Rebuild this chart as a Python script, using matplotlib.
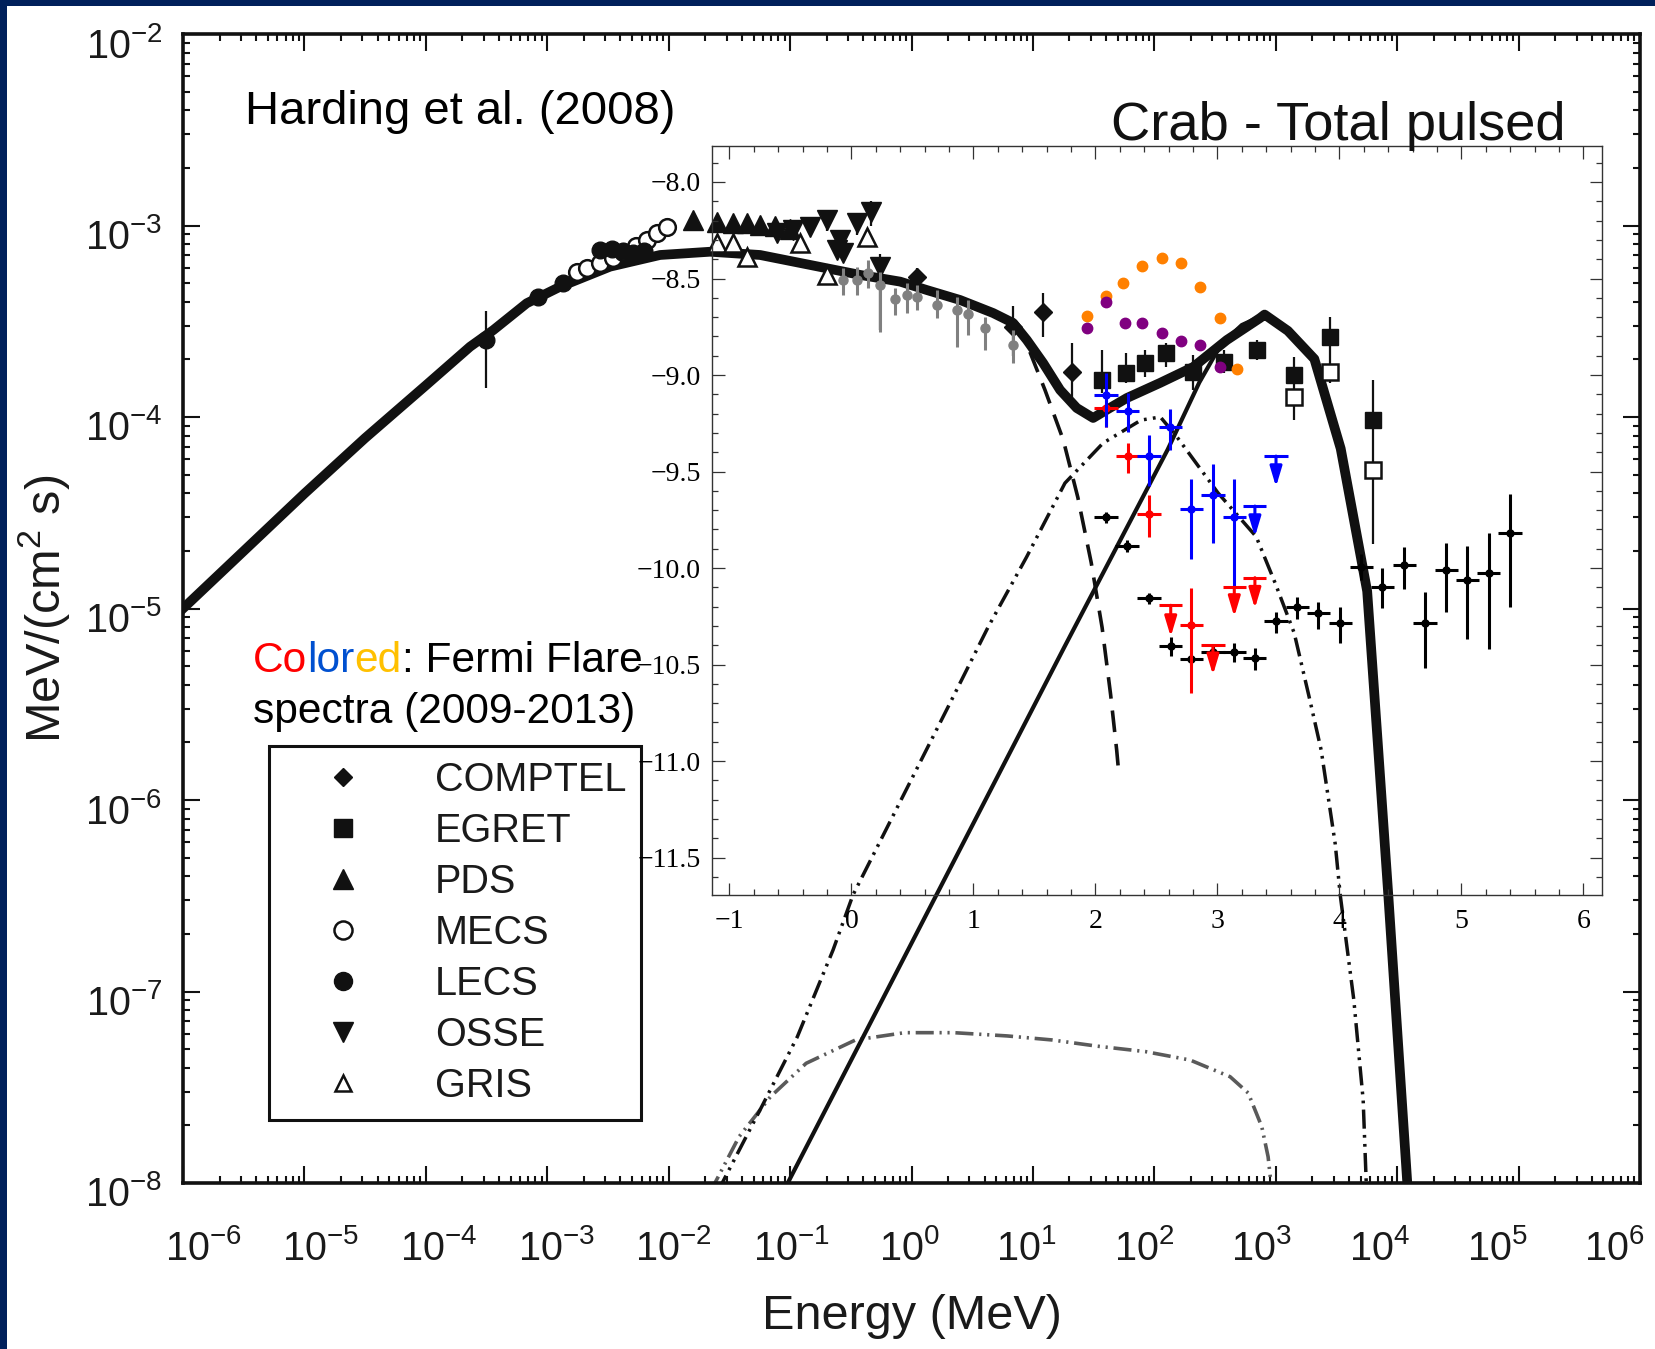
import numpy as np
import matplotlib
matplotlib.use('Agg')
import matplotlib.pyplot as plt
from matplotlib.lines import Line2D
from matplotlib.patches import Rectangle
from matplotlib.transforms import ScaledTranslation
from matplotlib.ticker import FixedLocator, LogLocator, NullFormatter, MultipleLocator, FuncFormatter

plt.rcParams['font.family'] = ['Liberation Sans', 'DejaVu Sans']
plt.rcParams['mathtext.fontset'] = 'custom'
plt.rcParams['mathtext.rm'] = 'Liberation Sans'
plt.rcParams['mathtext.it'] = 'Liberation Sans:italic'
plt.rcParams['mathtext.bf'] = 'Liberation Sans:bold'

# ---------------- outer plot data (log10 E [MeV], log10 E^2F [MeV/cm2/s]) -------------
tot_logE = [-6.0, -5.5, -5.0, -4.5, -4.0, -3.636, -3.444, -3.169, -2.895, -2.483, -2.071,
            -1.659, -1.247, -0.835, -0.423, -0.094, 0.126, 0.400, 0.672, 0.837, 0.950, 1.084,
            1.224, 1.361, 1.496, 1.606, 1.773, 2.047, 2.320, 2.597, 2.871, 2.908, 3.10, 3.318,
            3.535, 3.753, 3.84, 3.927, 4.083, 4.12]
tot_logF = [-5.0, -4.70, -4.40, -4.11, -3.835, -3.633, -3.546, -3.406, -3.320, -3.215, -3.154,
            -3.137, -3.154, -3.206, -3.258, -3.293, -3.337, -3.389, -3.457, -3.509, -3.598, -3.718,
            -3.859, -3.953, -4.005, -3.963, -3.901, -3.822, -3.739, -3.598, -3.483, -3.465, -3.55,
            -3.697, -4.165, -4.910, -5.70, -6.497, -7.997, -8.35]

thin_logE = [-1.06, 1.26, 2.11, 2.37, 2.55, 2.72, 2.908, 3.10, 3.318, 3.535, 3.753, 3.84,
             3.927, 4.083, 4.12]
thin_logF = [-8.05, -5.2, -4.17, -3.82, -3.62, -3.52, -3.465, -3.55, -3.697, -4.165, -4.910,
             -5.70, -6.497, -7.997, -8.35]

dash_logE = [0.837, 0.95, 1.10, 1.25, 1.37, 1.48, 1.57, 1.64, 1.69, 1.71]
dash_logF = [-3.509, -3.62, -3.86, -4.12, -4.42, -4.76, -5.10, -5.45, -5.74, -5.88]

dd_logE = [-1.60, -1.234, -0.940, -0.646, -0.482, 0.318, 0.631, 0.948, 1.264, 1.578, 1.891,
           2.05, 2.185, 2.525, 2.839, 2.995, 3.152, 3.281, 3.374, 3.490, 3.531, 3.643, 3.720,
           3.745, 3.75]
dd_logF = [-8.05, -7.602, -7.236, -6.783, -6.496, -5.493, -5.097, -4.731, -4.345, -4.136, -4.016,
           -4.00, -4.103, -4.397, -4.625, -4.867, -5.128, -5.478, -5.739, -6.230, -6.496, -7.044,
           -7.567, -7.995, -8.05]

ssc_logE = [-1.66, -1.42, -1.161, -0.868, -0.461, -0.057, 0.348, 0.788, 1.157, 1.524, 1.928,
            2.295, 2.624, 2.773, 2.885, 2.937, 2.958, 2.962]
ssc_logF = [-8.05, -7.758, -7.549, -7.375, -7.253, -7.215, -7.215, -7.232, -7.253, -7.285, -7.314,
            -7.358, -7.445, -7.53, -7.706, -7.863, -7.984, -8.05]

comptel_logE = [0.044, 0.839, 1.087, 1.320]
comptel_logF = [-3.267, -3.53, -3.450, -3.763]
comptel_lo = [-3.31, -3.68, -3.582, -3.896]
comptel_hi = [-3.22, -3.42, -3.352, -3.614]

egret_logE = [1.570, 1.768, 1.921, 2.097, 2.320, 2.573, 2.847, 3.150, 3.448, 3.802]
egret_logF = [-3.807, -3.770, -3.718, -3.666, -3.763, -3.711, -3.650, -3.781, -3.581, -4.016]
egret_lo = [-3.875, -3.822, -3.791, -3.739, -3.859, -3.77, -3.70, -4.016, -3.822, -4.661]
egret_hi = [-3.650, -3.666, -3.650, -3.614, -3.676, -3.65, -3.60, -3.687, -3.478, -3.807]
egret_open_logE = [3.150, 3.448, 3.802]
egret_open_logF = [-3.894, -3.763, -4.277]

pds_logE = [-1.796, -1.601, -1.467, -1.357, -1.247, -1.124, -1.0]
pds_logF = [-2.969, -2.980, -2.988, -2.988, -2.997, -3.003, -3.02]

gris_logE = [-1.604, -1.467, -1.357, -0.918, -0.70, -0.368]
gris_logF = [-3.093, -3.093, -3.163, -3.093, -3.258, -3.058]

osse_logE = [-1.110, -0.973, -0.835, -0.698, -0.615, -0.588, -0.561, -0.451, -0.337, -0.261]
osse_logF = [-3.041, -3.024, -3.006, -2.971, -3.128, -3.076, -3.145, -2.988, -2.928, -3.215]
osse_lo = [-3.06, -3.04, -3.03, -3.03, -3.16, -3.10, -3.18, -3.05, -3.00, -3.546]
osse_hi = [-3.02, -3.00, -2.98, -2.94, -3.09, -3.05, -3.11, -2.95, -2.87, -3.15]

lecs_logE = [-3.508, -3.076, -2.873, -2.569, -2.466, -2.376, -2.293, -2.203]
lecs_logF = [-3.598, -3.371, -3.300, -3.128, -3.123, -3.133, -3.144, -3.133]
lecs_lo = [-3.849, -3.39, -3.32, -3.15, -3.14, -3.15, -3.16, -3.15]
lecs_hi = [-3.446, -3.35, -3.28, -3.11, -3.10, -3.11, -3.13, -3.11]

mecs_logE = [-2.757, -2.675, -2.565, -2.458, -2.376, -2.269, -2.180, -2.098, -2.016]
mecs_logF = [-3.241, -3.223, -3.197, -3.170, -3.138, -3.107, -3.076, -3.041, -3.006]

legend_labels = ['COMPTEL', 'EGRET', 'PDS', 'MECS', 'LECS', 'OSSE', 'GRIS']

# ---------------- inset data (Fermi) ----------------
gray_x = [-0.067, 0.048, 0.138, 0.234, 0.357, 0.452, 0.534, 0.698, 0.862, 0.957, 1.094, 1.326]
gray_y = [-8.508, -8.508, -8.470, -8.534, -8.608, -8.585, -8.594, -8.637, -8.663, -8.684, -8.758, -8.845]
gray_lo = [-8.585, -8.585, -8.549, -8.777, -8.689, -8.679, -8.663, -8.705, -8.855, -8.793, -8.870, -8.938]
gray_hi = [-8.446, -8.440, -8.404, -8.466, -8.549, -8.523, -8.534, -8.560, -8.596, -8.611, -8.699, -8.767]

orange_x = [1.928, 2.084, 2.228, 2.384, 2.543, 2.701, 2.857, 3.020, 3.157]
orange_y = [-8.694, -8.591, -8.522, -8.434, -8.395, -8.421, -8.546, -8.706, -8.970]
purple_x = [1.928, 2.084, 2.242, 2.384, 2.543, 2.701, 2.857, 3.020]
purple_y = [-8.755, -8.620, -8.732, -8.732, -8.784, -8.822, -8.845, -8.957]

blue_x = [2.086, 2.266, 2.614, 2.439, 2.787, 2.963, 3.138]
blue_y = [-9.104, -9.185, -9.271, -9.420, -9.696, -9.622, -9.734]
blue_lo = [-9.269, -9.295, -9.389, -9.575, -9.953, -9.869, -10.097]
blue_hi = [-8.990, -9.093, -9.176, -9.311, -9.539, -9.461, -9.539]
blue_ul_x = [3.480, 3.307]
blue_ul_y = [-9.420, -9.679]
blue_ul_tip = [-9.579, -9.838]

red_x = [2.086, 2.266, 2.439, 2.787]
red_y = [-9.173, -9.420, -9.722, -10.295]
red_lo = [-9.269, -9.508, -9.838, -10.648]
red_hi = [-9.130, -9.352, -9.622, -10.104]
red_ul_x = [2.617, 2.963, 3.138, 3.307]
red_ul_y = [-10.193, -10.401, -10.100, -10.050]
red_ul_tip = [-10.356, -10.554, -10.252, -10.209]

blk_x = [2.086, 2.258, 2.439, 2.617, 2.787, 2.963, 3.138, 3.307, 3.480, 3.656, 3.828, 4.007,
         4.180, 4.352, 4.531, 4.701, 4.876, 5.048, 5.224, 5.398]
blk_y = [-9.734, -9.886, -10.157, -10.404, -10.473, -10.434, -10.434, -10.468, -10.273, -10.200,
         -10.235, -10.283, -9.996, -10.097, -9.984, -10.283, -10.010, -10.062, -10.024, -9.820]
blk_lo = [-9.768, -9.916, -10.187, -10.456, -10.503, -10.464, -10.485, -10.528, -10.335, -10.266,
          -10.318, -10.387, -10.062, -10.209, -10.110, -10.520, -10.226, -10.370, -10.421, -10.200]
blk_hi = [-9.708, -9.856, -10.127, -10.358, -10.443, -10.404, -10.387, -10.415, -10.226, -10.149,
          -10.175, -10.204, -9.927, -10.002, -9.893, -10.126, -9.869, -9.884, -9.820, -9.617]
bin_half = 0.095

# ---------------- figure ----------------
W, H = 1655, 1349
fig = plt.figure(figsize=(W / 100, H / 100), dpi=100, facecolor='#00205b')
fig.add_artist(Rectangle((7 / W, 0), 1 - 7 / W, 1 - 6 / H, transform=fig.transFigure,
                         facecolor='white', edgecolor='none', zorder=-10))

ink = '#111111'
ax = fig.add_axes([183 / W, 1 - 1183 / H, (1640 - 183) / W, (1183 - 34) / H])
ax.set_facecolor('white')
ax.set_xscale('log')
ax.set_yscale('log')
ax.set_xlim(1e-6, 1e6)
ax.set_ylim(1e-8, 1e-2)
ax.xaxis.set_major_locator(FixedLocator(10.0 ** np.arange(-6, 7)))
ax.yaxis.set_major_locator(FixedLocator(10.0 ** np.arange(-8, -1)))
ax.xaxis.set_minor_locator(LogLocator(base=10, subs=np.arange(2, 10), numticks=200))
ax.yaxis.set_minor_locator(LogLocator(base=10, subs=np.arange(2, 10), numticks=200))
ax.xaxis.set_minor_formatter(NullFormatter())
ax.yaxis.set_minor_formatter(NullFormatter())
ax.tick_params(which='both', direction='in', top=True, right=True, colors=ink, width=1.5)
ax.tick_params(which='major', length=12, labelsize=28.5, labelcolor='#1a1a1a')
ax.tick_params(which='minor', length=5)
ax.tick_params(axis='x', which='major', pad=33)
ax.tick_params(axis='y', which='major', pad=15)
for s in ax.spines.values():
    s.set_linewidth(2.6)
    s.set_color(ink)
off = ScaledTranslation(0, -8 / 100, fig.dpi_scale_trans)
for t in ax.yaxis.get_major_ticks():
    t.label1.set_transform(t.label1.get_transform() + off)
# x tick labels of the original sit on a slightly compressed scale
xlocs = ax.xaxis.get_majorticklocs()
for loc, t in zip(xlocs, ax.xaxis.get_major_ticks(len(xlocs))):
    n = np.log10(loc)
    dx = (-2.5 - 3.8 * n) / 100
    t.label1.set_transform(t.label1.get_transform() + ScaledTranslation(dx, 0, fig.dpi_scale_trans))

ax.set_xlabel('Energy (MeV)', fontsize=35, color='#1a1a1a')
ax.xaxis.set_label_coords(0.5, -0.097)
ax.set_ylabel('MeV/(cm$^2$ s)', fontsize=35, color='#1a1a1a')
ax.yaxis.set_label_coords(-0.0765, 0.5)

p10 = lambda a: 10.0 ** np.asarray(a)

# model curves
ax.plot(p10(ssc_logE), p10(ssc_logF), color='#5a5a5a', lw=2.6,
        dashes=(5, 1.6, 0.6, 1.6, 0.6, 1.6), zorder=2)
ax.plot(p10(dd_logE), p10(dd_logF), color=ink, lw=2.5,
        dashes=(5.5, 1.8, 0.8, 1.8, 0.8, 1.8), zorder=2)
ax.plot(p10(dash_logE), p10(dash_logF), color=ink, lw=2.6, dashes=(6, 3.3), zorder=2)
ax.plot(p10(thin_logE), p10(thin_logF), color=ink, lw=3.0, zorder=2)
ax.plot(p10(tot_logE), p10(tot_logF), color=ink, lw=7.0, solid_joinstyle='round', zorder=3)

def errs(v, lo, hi):
    v, lo, hi = p10(v), p10(lo), p10(hi)
    return [v - lo, hi - v]

ekw = dict(ls='none', ecolor=ink, elinewidth=1.6, capsize=0, zorder=4)
ax.errorbar(p10(lecs_logE), p10(lecs_logF), yerr=errs(lecs_logF, lecs_lo, lecs_hi),
            marker='o', ms=12, mfc=ink, mec=ink, **ekw)
ax.plot(p10(mecs_logE), p10(mecs_logF), ls='none', marker='o', ms=12, mfc='white', mec=ink,
        mew=1.8, zorder=4)
ax.plot(p10(pds_logE), p10(pds_logF), ls='none', marker='^', ms=14, mfc=ink, mec=ink, zorder=4)
ax.plot(p10(gris_logE), p10(gris_logF), ls='none', marker='^', ms=13, mfc='white', mec=ink,
        mew=1.8, zorder=4)
ax.errorbar(p10(osse_logE), p10(osse_logF), yerr=errs(osse_logF, osse_lo, osse_hi),
            marker='v', ms=14, mfc=ink, mec=ink, **ekw)
ax.errorbar(p10(comptel_logE), p10(comptel_logF), yerr=errs(comptel_logF, comptel_lo, comptel_hi),
            marker='D', ms=9, mfc=ink, mec=ink, **ekw)
ax.errorbar(p10(egret_logE), p10(egret_logF), yerr=errs(egret_logF, egret_lo, egret_hi),
            marker='s', ms=12, mfc=ink, mec=ink, **ekw)
ax.plot(p10(egret_open_logE), p10(egret_open_logF), ls='none', marker='s', ms=12, mfc='white',
        mec=ink, mew=1.8, zorder=4)

# legend
handles = [
    Line2D([], [], ls='none', marker='D', ms=9.5, mfc=ink, mec=ink),
    Line2D([], [], ls='none', marker='s', ms=13, mfc=ink, mec=ink),
    Line2D([], [], ls='none', marker='^', ms=14, mfc=ink, mec=ink),
    Line2D([], [], ls='none', marker='o', ms=13, mfc='white', mec=ink, mew=1.8),
    Line2D([], [], ls='none', marker='o', ms=13, mfc=ink, mec=ink),
    Line2D([], [], ls='none', marker='v', ms=14, mfc=ink, mec=ink),
    Line2D([], [], ls='none', marker='^', ms=12, mfc='white', mec=ink, mew=1.8),
]
leg = ax.legend(handles, legend_labels, loc='upper left', bbox_to_anchor=(269 / W, 1 - 746 / H),
                bbox_transform=fig.transFigure, borderaxespad=0, fontsize=28.5, frameon=True,
                fancybox=False, edgecolor=ink, facecolor='white', framealpha=1, borderpad=0.37,
                handlelength=3.0, handletextpad=0.82, labelspacing=0.33, numpoints=1,
                labelcolor='#1a1a1a')
leg.get_frame().set_linewidth(2.2)

# texts
fig.text(245 / W, 1 - 124.5 / H, 'Harding et al. (2008)', fontsize=34, va='baseline', color='black')
fig.text(1111 / W, 1 - 140 / H, 'Crab - Total pulsed', fontsize=39.2, va='baseline', color=ink)

pieces = [('Co', '#ff0000'), ('lor', '#0050d0'), ('ed', '#ffc000'), (': Fermi Flare', 'black')]
prev = fig.text(253 / W, 1 - 672 / H, pieces[0][0], fontsize=30.6, va='baseline', color=pieces[0][1])
for s, c in pieces[1:]:
    prev = ax.annotate(s, xycoords=prev, xy=(1, 0), va='bottom', ha='left', fontsize=30.6,
                       color=c, annotation_clip=False)
fig.text(253 / W, 1 - 723 / H, 'spectra (2009-2013)', fontsize=30.6, va='baseline', color='black')

# ---------------- inset ----------------
ins = fig.add_axes([712 / W, 1 - 895 / H, 890 / W, 749 / H])
ins.set_facecolor('none')
ins.set_xlim(-1.143, 6.152)
ins.set_ylim(-11.694, -7.8135)
ins.xaxis.set_major_locator(MultipleLocator(1))
ins.xaxis.set_minor_locator(MultipleLocator(0.2))
ins.yaxis.set_major_locator(MultipleLocator(0.5))
ins.yaxis.set_minor_locator(MultipleLocator(0.1))

def fmt_x(v, p):
    v = 0 if abs(v) < 1e-9 else v
    return ('%d' % round(v)).replace('-', '\u2212')

def fmt_y(v, p):
    return ('%.1f' % v).replace('-', '\u2212')

ins.xaxis.set_major_formatter(FuncFormatter(fmt_x))
ins.yaxis.set_major_formatter(FuncFormatter(fmt_y))
ins.tick_params(which='both', direction='in', top=True, right=True, colors='#333333', width=0.9,
                labelcolor='black')
ins.tick_params(which='major', length=9, labelsize=20, labelfontfamily='Liberation Serif')
ins.tick_params(which='minor', length=4.5)
ins.tick_params(axis='x', which='major', pad=10)
ins.tick_params(axis='y', which='major', pad=8)
for s in ins.spines.values():
    s.set_linewidth(1.0)
    s.set_color('#333333')

def aerr(v, lo, hi):
    v, lo, hi = np.asarray(v), np.asarray(lo), np.asarray(hi)
    return [v - lo, hi - v]

ins.errorbar(gray_x, gray_y, yerr=aerr(gray_y, gray_lo, gray_hi), ls='none', marker='o', ms=6.5,
             color='#808080', elinewidth=2.2, capsize=0, zorder=3)
ins.plot(orange_x, orange_y, ls='none', marker='o', ms=7.5, color='#ff8000', zorder=3)
ins.plot(purple_x, purple_y, ls='none', marker='o', ms=7.5, color='#800080', zorder=3)

ins.errorbar(blk_x, blk_y, xerr=bin_half, yerr=aerr(blk_y, blk_lo, blk_hi), ls='none', marker='o',
             ms=5, color='black', elinewidth=2.2, capsize=0, zorder=4)
ins.errorbar(red_x, red_y, xerr=bin_half, yerr=aerr(red_y, red_lo, red_hi), ls='none', marker='o',
             ms=5, color='#ff0000', elinewidth=2.2, capsize=0, zorder=5)
ins.errorbar(blue_x, blue_y, xerr=bin_half, yerr=aerr(blue_y, blue_lo, blue_hi), ls='none',
             marker='o', ms=5, color='#0000ff', elinewidth=2.2, capsize=0, zorder=6)

for xs, ys, tips, col in [(red_ul_x, red_ul_y, red_ul_tip, '#ff0000'),
                          (blue_ul_x, blue_ul_y, blue_ul_tip, '#0000ff')]:
    ins.errorbar(xs, ys, xerr=bin_half, ls='none', color=col, elinewidth=2.2, capsize=0, zorder=6)
    for xv, yv, tv in zip(xs, ys, tips):
        ins.annotate('', xy=(xv, tv), xytext=(xv, yv),
                     arrowprops=dict(arrowstyle='-|>,head_length=0.6,head_width=0.18', color=col,
                                     lw=2.2, shrinkA=0, shrinkB=0, mutation_scale=20), zorder=6)

fig.savefig('out.png', dpi=100, facecolor=fig.get_facecolor())
